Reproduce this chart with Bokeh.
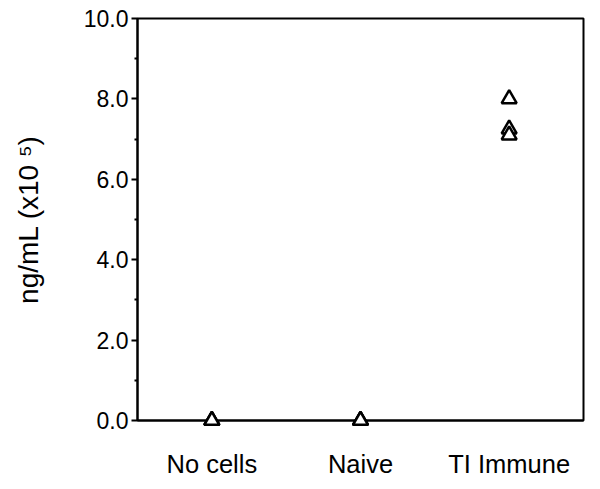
from bokeh.plotting import figure
from bokeh.models import FactorRange, Range1d, FixedTicker
from bokeh.embed import file_html
from bokeh.resources import INLINE

categories = ["No cells", "Naive", "TI Immune"]
group = ["No cells", "No cells", "No cells", "Naive", "Naive", "Naive",
         "TI Immune", "TI Immune", "TI Immune"]
values = [0.0, 0.0, 0.0, 0.0, 0.0, 0.0, 8.0, 7.25, 7.1]
y_ticks = [0, 2, 4, 6, 8, 10]
y_tick_labels = ["0.0", "2.0", "4.0", "6.0", "8.0", "10.0"]

FONT = "Liberation Sans"

p = figure(width=600, height=489, output_backend="svg", toolbar_location=None,
           x_range=FactorRange(*categories), y_range=Range1d(0, 10),
           min_border_left=137, min_border_right=17, min_border_top=18,
           min_border_bottom=69)

p.scatter(x=group, y=values, marker="triangle", size=15,
          fill_color="white", line_color="black", line_width=2.5,
          level="overlay")

p.xgrid.grid_line_color = None
p.ygrid.grid_line_color = None
p.outline_line_color = "black"
p.outline_line_width = 2
p.outline_line_alpha = 1

p.yaxis.ticker = FixedTicker(ticks=y_ticks, minor_ticks=[1, 3, 5, 7, 9])
p.yaxis.major_label_overrides = {t: l for t, l in zip(y_ticks, y_tick_labels)}
p.yaxis.axis_label = "ng/mL (x10 \u2075)"
p.yaxis.axis_label_text_font = FONT
p.yaxis.axis_label_text_font_style = "normal"
p.yaxis.axis_label_text_font_size = "28px"
p.yaxis.axis_label_text_color = "black"
p.yaxis.axis_label_standoff = 37
p.yaxis.major_label_text_font = FONT
p.yaxis.major_label_text_font_size = "23px"
p.yaxis.major_label_standoff = 3
p.yaxis.major_tick_out = 6
p.yaxis.major_tick_in = 0
p.yaxis.minor_tick_out = 3
p.yaxis.minor_tick_in = 0

for ax in (p.xaxis, p.yaxis):
    ax.axis_line_width = 2
    ax.axis_line_color = "black"
    ax.major_tick_line_width = 2
    ax.minor_tick_line_width = 2
    ax.major_label_text_color = "black"

p.xaxis.major_tick_line_color = None
p.xaxis.major_label_text_font = FONT
p.xaxis.major_label_text_font_size = "25.5px"
p.xaxis.major_label_standoff = 23

open("out.html", "w").write(file_html(p, INLINE))
